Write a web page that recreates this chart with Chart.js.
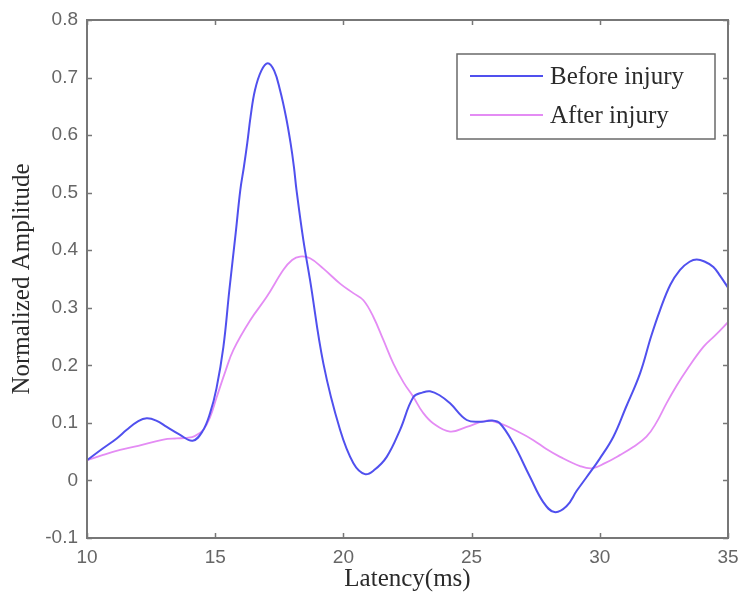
<!DOCTYPE html>
<html>
<head>
<meta charset="utf-8">
<script src="https://cdn.jsdelivr.net/npm/chart.js@4/dist/chart.umd.min.js"></script>
<style>
html,body{margin:0;padding:0;background:#fff;}
canvas{display:block;}
</style>
</head>
<body>
<canvas id="c" width="743" height="604"></canvas>
<script>
// ---- data ----
const beforeLabel = "Before injury";
const afterLabel = "After injury";
const xTitle = "Latency(ms)";
const yTitle = "Normalized Amplitude";
const xTicks = [10, 15, 20, 25, 30, 35];
const yTicks = [-0.1, 0, 0.1, 0.2, 0.3, 0.4, 0.5, 0.6, 0.7, 0.8];

const beforeX = [10, 10.6, 11.16, 11.55, 12.0, 12.33, 12.7, 13.11, 13.6, 14.12, 14.5, 14.8, 15.05, 15.32, 15.55, 15.8, 15.98, 16.12, 16.25, 16.38, 16.55, 16.8, 17.05, 17.3, 17.53, 17.76, 17.94, 18.07, 18.17, 18.44, 18.7, 19.22, 19.87, 20.39, 20.84, 21.2, 21.69, 22.21, 22.73, 23.1, 23.38, 23.75, 24.16, 24.81, 25.39, 25.8, 26.11, 26.63, 27.28, 27.8, 28.23, 28.7, 29.1, 29.49, 30.0, 30.53, 31.0, 31.57, 32.0, 32.35, 32.75, 33.13, 33.5, 33.78, 34.1, 34.43, 34.7, 35];
const beforeY = [0.035, 0.055, 0.073, 0.088, 0.103, 0.108, 0.104, 0.093, 0.080, 0.069, 0.085, 0.117, 0.160, 0.232, 0.330, 0.430, 0.505, 0.545, 0.586, 0.632, 0.678, 0.712, 0.725, 0.712, 0.678, 0.632, 0.586, 0.545, 0.505, 0.417, 0.348, 0.203, 0.088, 0.030, 0.011, 0.018, 0.041, 0.088, 0.145, 0.153, 0.155, 0.148, 0.134, 0.105, 0.102, 0.104, 0.099, 0.064, 0.006, -0.038, -0.055, -0.045, -0.018, 0.006, 0.038, 0.076, 0.125, 0.186, 0.250, 0.296, 0.340, 0.366, 0.380, 0.384, 0.380, 0.371, 0.355, 0.335];

const afterX = [10, 10.6, 11.29, 12.0, 12.98, 13.5, 13.89, 14.2, 14.54, 14.8, 15.06, 15.4, 15.71, 16.36, 17.01, 17.66, 18.0, 18.31, 18.7, 19.22, 19.87, 20.4, 20.78, 21.17, 21.55, 21.95, 22.35, 22.73, 23.1, 23.51, 24.16, 24.81, 25.59, 26.11, 26.8, 27.41, 27.9, 28.45, 29.23, 29.7, 30.2, 30.78, 31.3, 31.82, 32.2, 32.6, 33.0, 33.39, 34.04, 34.5, 35];
const afterY = [0.035, 0.044, 0.053, 0.060, 0.071, 0.073, 0.074, 0.077, 0.088, 0.110, 0.145, 0.190, 0.227, 0.278, 0.319, 0.366, 0.383, 0.389, 0.386, 0.368, 0.342, 0.325, 0.313, 0.284, 0.245, 0.203, 0.170, 0.145, 0.118, 0.099, 0.085, 0.093, 0.104, 0.099, 0.085, 0.070, 0.055, 0.041, 0.025, 0.021, 0.030, 0.044, 0.058, 0.076, 0.100, 0.134, 0.165, 0.192, 0.232, 0.252, 0.275];

const BLUE = '#5050ee';
const PINK = '#e48cf4';
const AXIS = '#777777';

function pts(xs, ys) { return xs.map((x, i) => ({x: x, y: ys[i]})); }

// ---- box, inward ticks, legend ----
const boxPlugin = {
  id: 'boxPlugin',
  afterDraw(chart) {
    const ctx = chart.ctx;
    const a = chart.chartArea;
    const xs = chart.scales.x, ys = chart.scales.y;
    ctx.save();
    ctx.strokeStyle = AXIS;
    ctx.lineWidth = 1.5;
    const L = 5;
    ctx.beginPath();
    xTicks.forEach(v => {
      const px = Math.round(xs.getPixelForValue(v)) + 0.5;
      ctx.moveTo(px, a.bottom); ctx.lineTo(px, a.bottom - L);
      ctx.moveTo(px, a.top); ctx.lineTo(px, a.top + L);
    });
    yTicks.forEach(v => {
      const py = Math.round(ys.getPixelForValue(v)) + 0.5;
      ctx.moveTo(a.left, py); ctx.lineTo(a.left + L, py);
      ctx.moveTo(a.right, py); ctx.lineTo(a.right - L, py);
    });
    ctx.stroke();
    ctx.lineWidth = 2;
    ctx.strokeRect(a.left, a.top, a.right - a.left, a.bottom - a.top);

    // legend
    const bx = 457, by = 54, bw = 258, bh = 85;
    ctx.fillStyle = '#fff';
    ctx.fillRect(bx, by, bw, bh);
    ctx.strokeStyle = '#6a6a6a';
    ctx.lineWidth = 1.5;
    ctx.strokeRect(bx, by, bw, bh);
    const items = chart.data.datasets;
    const rows = [76, 115];
    ctx.font = '25px "Liberation Serif", "Times New Roman", serif';
    ctx.textBaseline = 'middle';
    ctx.textAlign = 'left';
    items.forEach((ds, i) => {
      ctx.strokeStyle = ds.borderColor;
      ctx.lineWidth = 2;
      ctx.beginPath();
      ctx.moveTo(470, rows[i]); ctx.lineTo(543, rows[i]);
      ctx.stroke();
      ctx.fillStyle = '#2a2a2a';
      ctx.fillText(ds.label, 550, rows[i] + 1);
    });
    ctx.restore();
  }
};

new Chart(document.getElementById('c'), {
  type: 'line',
  data: {
    datasets: [
      { label: beforeLabel, data: pts(beforeX, beforeY), borderColor: BLUE, borderWidth: 2, pointRadius: 0, tension: 0.4, fill: false },
      { label: afterLabel, data: pts(afterX, afterY), borderColor: PINK, borderWidth: 1.8, pointRadius: 0, tension: 0.4, fill: false }
    ]
  },
  options: {
    responsive: false,
    animation: false,
    devicePixelRatio: 1,
    layout: { padding: { top: 20, right: 15, left: 0, bottom: 0 } },
    plugins: { legend: { display: false }, tooltip: { enabled: false } },
    scales: {
      x: {
        type: 'linear', min: 10, max: 35,
        afterFit(s) { s.height = 66; s.paddingRight = 0; s.paddingLeft = 0; },
        afterBuildTicks(s) { s.ticks = xTicks.map(v => ({value: v})); },
        grid: { display: false, drawTicks: false },
        border: { display: false },
        ticks: { color: '#666', padding: 8, font: { family: '"Liberation Sans", Arial, sans-serif', size: 19 }, maxRotation: 0 },
        title: { display: true, text: xTitle, color: '#2a2a2a', padding: { top: 0, bottom: 10 }, font: { family: '"Liberation Serif", "Times New Roman", serif', size: 25 } }
      },
      y: {
        type: 'linear', min: -0.1, max: 0.8,
        afterFit(s) { s.width = 87; s.paddingTop = 0; s.paddingBottom = 0; },
        afterBuildTicks(s) { s.ticks = yTicks.map(v => ({value: v})); },
        grid: { display: false, drawTicks: false },
        border: { display: false },
        ticks: { color: '#666', padding: 9, font: { family: '"Liberation Sans", Arial, sans-serif', size: 19 },
          callback: v => String(Number(v.toFixed(1))) },
        title: { display: true, text: yTitle, color: '#2a2a2a', padding: { top: 7, bottom: 0 }, font: { family: '"Liberation Serif", "Times New Roman", serif', size: 25 } }
      }
    }
  },
  plugins: [boxPlugin]
});
</script>
</body>
</html>
